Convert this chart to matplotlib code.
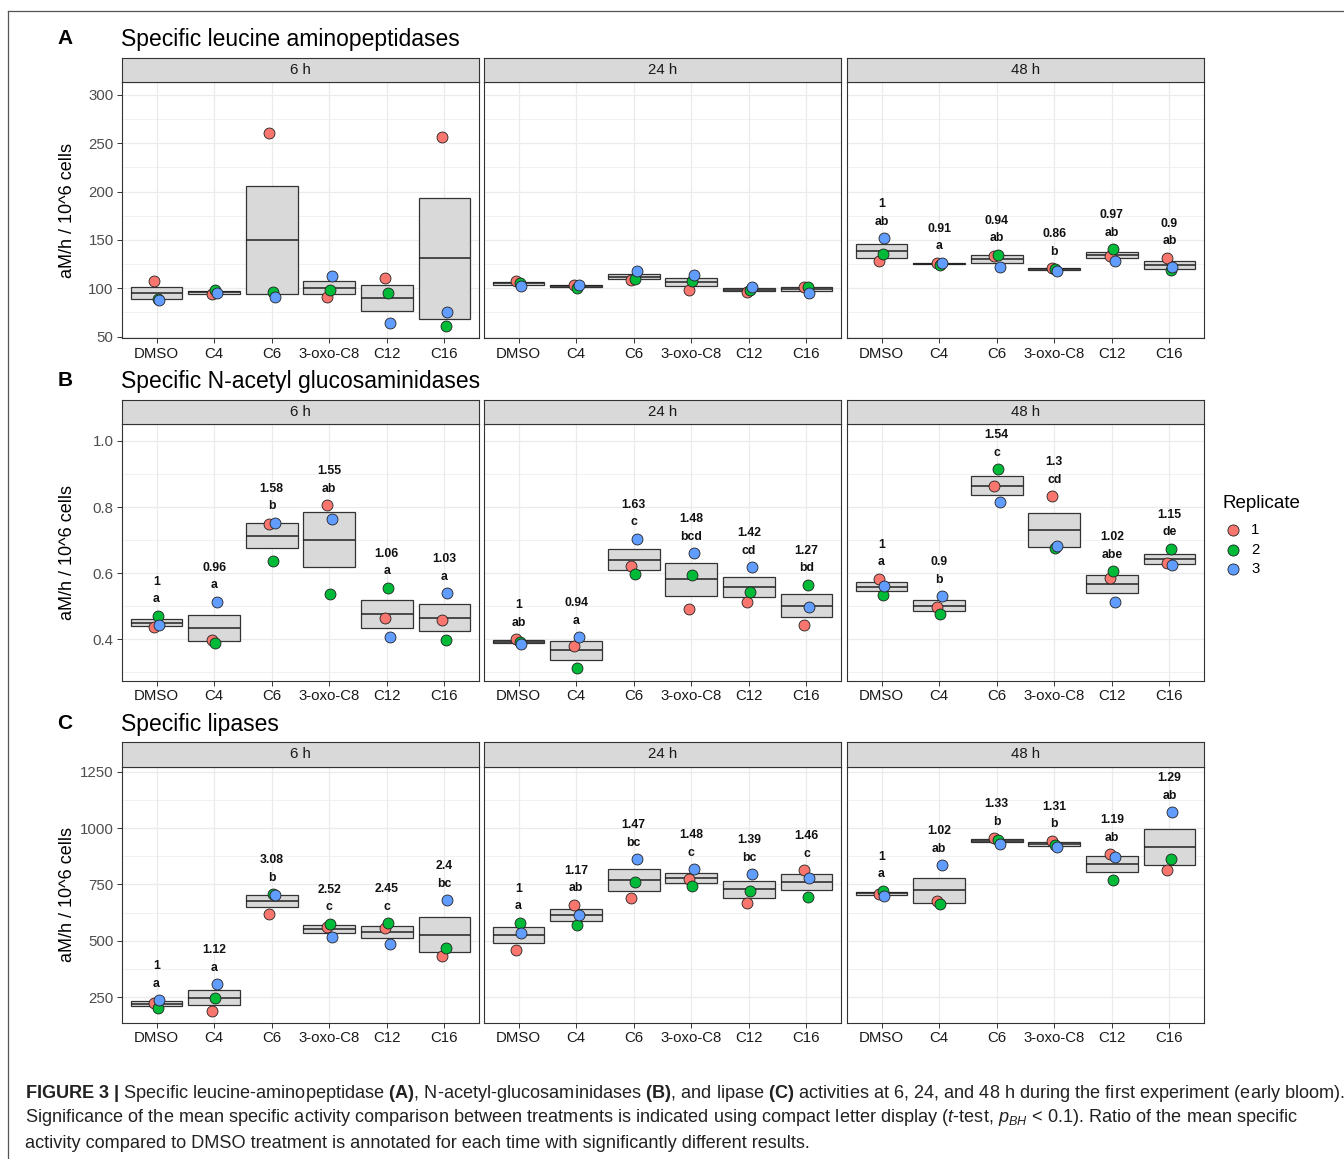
import matplotlib
matplotlib.use("Agg")
import matplotlib.pyplot as plt
from matplotlib.lines import Line2D
import numpy as np

plt.rcParams['font.family'] = ['Liberation Sans', 'DejaVu Sans']
plt.rcParams['mathtext.fontset'] = 'custom'
plt.rcParams['mathtext.rm'] = 'Liberation Sans'
plt.rcParams['mathtext.it'] = 'Liberation Sans:italic'
plt.rcParams['mathtext.bf'] = 'Liberation Sans:bold'

treatments = ["DMSO", "C4", "C6", "3-oxo-C8", "C12", "C16"]
times = ["6 h", "24 h", "48 h"]
replicates = ["1", "2", "3"]
rep_colors = ["#F8766D", "#00BA38", "#619CFF"]

# rows = replicate 1, 2, 3 ; columns = treatments
# A - leucine aminopeptidase
lap_6h = [[108, 94, 261, 90.7, 111, 256.5],
          [89, 98, 96.5, 98, 95, 61],
          [88, 95, 91, 113, 64.5, 75]]
lap_24h = [[108, 103.7, 109, 98.6, 96.5, 101.8],
           [105, 100.5, 109.3, 107.3, 98.3, 101],
           [102.5, 103, 117.6, 113.5, 101, 95.5]]
lap_48h = [[128, 126.5, 133.2, 121, 133.8, 131.7],
           [135.5, 124, 134.8, 120, 140.4, 119],
           [151.7, 126, 122, 117.7, 128.6, 121.8]]
lap_ratio_48h = ["1", "0.91", "0.94", "0.86", "0.97", "0.9"]
lap_cld_48h = ["ab", "a", "ab", "b", "ab", "ab"]

# B - N-acetyl glucosaminidase
nag_6h = [[0.438, 0.398, 0.749, 0.806, 0.465, 0.458],
          [0.471, 0.390, 0.638, 0.536, 0.556, 0.398],
          [0.443, 0.514, 0.753, 0.763, 0.408, 0.539]]
nag_24h = [[0.400, 0.381, 0.622, 0.491, 0.512, 0.444],
           [0.393, 0.312, 0.597, 0.594, 0.544, 0.565],
           [0.386, 0.406, 0.704, 0.660, 0.618, 0.497]]
nag_48h = [[0.583, 0.498, 0.864, 0.833, 0.584, 0.632],
           [0.534, 0.477, 0.914, 0.677, 0.606, 0.674],
           [0.562, 0.531, 0.816, 0.683, 0.514, 0.624]]
nag_ratio_6h = ["1", "0.96", "1.58", "1.55", "1.06", "1.03"]
nag_cld_6h = ["a", "a", "b", "ab", "a", "a"]
nag_ratio_24h = ["1", "0.94", "1.63", "1.48", "1.42", "1.27"]
nag_cld_24h = ["ab", "a", "c", "bcd", "cd", "bd"]
nag_ratio_48h = ["1", "0.9", "1.54", "1.3", "1.02", "1.15"]
nag_cld_48h = ["a", "b", "c", "cd", "abe", "de"]

# C - lipase
lip_6h = [[223, 189, 621, 563, 556, 433],
          [201, 248, 707, 576, 578, 467],
          [238, 309, 703, 519, 485, 680]]
lip_24h = [[460, 660, 689, 773, 669, 814],
           [581, 569, 760, 745, 721, 693],
           [534, 615, 862, 817, 795, 780]]
lip_48h = [[710, 678, 956, 944, 884, 814],
           [723, 662, 946, 926, 770, 862],
           [700, 835, 931, 918, 871, 1070]]
lip_ratio_6h = ["1", "1.12", "3.08", "2.52", "2.45", "2.4"]
lip_cld_6h = ["a", "a", "b", "c", "c", "bc"]
lip_ratio_24h = ["1", "1.17", "1.47", "1.48", "1.39", "1.46"]
lip_cld_24h = ["a", "ab", "bc", "c", "bc", "c"]
lip_ratio_48h = ["1", "1.02", "1.33", "1.31", "1.19", "1.29"]
lip_cld_48h = ["a", "ab", "b", "b", "ab", "ab"]

rows = [
    dict(tag="A", title="Specific leucine aminopeptidases",
         data=[lap_6h, lap_24h, lap_48h],
         ann=[None, None, (lap_ratio_48h, lap_cld_48h)],
         ylim=(48.3, 313), major=[50, 100, 150, 200, 250, 300],
         minor=[75, 125, 175, 225, 275], labels=["50", "100", "150", "200", "250", "300"],
         top=82.3, bottom=338.3),
    dict(tag="B", title="Specific N-acetyl glucosaminidases",
         data=[nag_6h, nag_24h, nag_48h],
         ann=[(nag_ratio_6h, nag_cld_6h), (nag_ratio_24h, nag_cld_24h), (nag_ratio_48h, nag_cld_48h)],
         ylim=(0.2747, 1.0505), major=[0.4, 0.6, 0.8, 1.0],
         minor=[0.3, 0.5, 0.7, 0.9], labels=["0.4", "0.6", "0.8", "1.0"],
         top=424.3, bottom=680.7),
    dict(tag="C", title="Specific lipases",
         data=[lip_6h, lip_24h, lip_48h],
         ann=[(lip_ratio_6h, lip_cld_6h), (lip_ratio_24h, lip_cld_24h), (lip_ratio_48h, lip_cld_48h)],
         ylim=(137.4, 1272), major=[250, 500, 750, 1000, 1250],
         minor=[375, 625, 875, 1125], labels=["250", "500", "750", "1000", "1250"],
         top=766.7, bottom=1022.7),
]

W, H = 1344, 1159
fig = plt.figure(figsize=(W / 100, H / 100), dpi=100)
fx = lambda p: p / W
fy = lambda p: 1 - p / H

col_left = [122, 484, 847]
col_w = 357
strip_h = 24.5
jit = [-0.04, 0.02, 0.05]
x = np.arange(1, len(treatments) + 1)

for row in rows:
    for ci in range(3):
        ax = fig.add_axes([fx(col_left[ci]), fy(row["bottom"]), col_w / W, (row["bottom"] - row["top"]) / H])
        vals = np.array(row["data"][ci], dtype=float)
        mean = vals.mean(axis=0)
        se = vals.std(axis=0, ddof=1) / np.sqrt(vals.shape[0])
        # crossbar = mean +- SE
        ax.bar(x, 2 * se, bottom=mean - se, width=0.9, color="#D9D9D9",
               edgecolor="#333333", linewidth=0.9, zorder=2)
        ax.hlines(mean, x - 0.45, x + 0.45, color="#222222", lw=1.1, zorder=3)
        for r in range(vals.shape[0]):
            ax.scatter(x + jit[r], vals[r], s=62, c=rep_colors[r], edgecolors="#222222",
                       linewidths=0.6, zorder=4)
        if row["ann"][ci] is not None:
            ratio, cld = row["ann"][ci]
            top = vals.max(axis=0)
            for i in range(len(x)):
                ax.annotate(cld[i], (x[i], top[i]), xytext=(0, 11.8), textcoords="offset points",
                            ha="center", va="center", fontsize=8.8, fontweight="bold", color="#111111")
                ax.annotate(ratio[i], (x[i], top[i]), xytext=(0, 24.5), textcoords="offset points",
                            ha="center", va="center", fontsize=8.8, fontweight="bold", color="#111111")
        ax.set_xlim(0.4, 6.6)
        ax.set_ylim(*row["ylim"])
        ax.set_xticks(x)
        ax.set_xticklabels(treatments, fontsize=10.8, color="#1A1A1A")
        ax.set_yticks(row["major"])
        ax.set_yticklabels(row["labels"], fontsize=10.8, color="#4D4D4D")
        ax.set_yticks(row["minor"], minor=True)
        ax.tick_params(which="minor", length=0)
        ax.tick_params(which="major", length=3.5, width=0.7, color="#333333", pad=2.5)
        ax.grid(which="major", color="#EBEBEB", lw=0.9)
        ax.grid(which="minor", axis="y", color="#EBEBEB", lw=0.5)
        ax.set_axisbelow(True)
        for s in ax.spines.values():
            s.set_color("#333333")
            s.set_linewidth(0.8)
        if ci > 0:
            ax.tick_params(axis="y", left=False, labelleft=False)

        sax = fig.add_axes([fx(col_left[ci]), fy(row["top"]), col_w / W, strip_h / H])
        sax.set_facecolor("#D9D9D9")
        sax.set_xticks([])
        sax.set_yticks([])
        for s in sax.spines.values():
            s.set_color("#333333")
            s.set_linewidth(0.8)
        sax.text(0.5, 0.5, times[ci], ha="center", va="center", fontsize=10.8,
                 color="#1A1A1A", transform=sax.transAxes)

    strip_top = row["top"] - strip_h
    fig.text(fx(65), fy(strip_top - 19), row["tag"], ha="center", va="center",
             fontsize=15, fontweight="bold")
    fig.text(fx(121), fy(strip_top - 18), row["title"], ha="left", va="center", fontsize=16.5)
    fig.text(fx(68), fy((row["top"] + row["bottom"]) / 2), "aM/h / 10^6 cells",
             rotation=90, ha="center", va="center", fontsize=13)

# legend, drawn by hand to match ggplot spacing
fig.text(fx(1223), fy(503), "Replicate", ha="left", va="center", fontsize=13.5)
for k, (lab, c) in enumerate(zip(replicates, rep_colors)):
    yk = fy(530 + 19.5 * k)
    fig.add_artist(Line2D([fx(1233)], [yk], marker="o", ls="", markersize=8,
                          markerfacecolor=c, markeredgecolor="#222222", markeredgewidth=0.6))
    fig.text(fx(1251), yk, lab, ha="left", va="center", fontsize=10.8)

# caption
cap1 = (r"$\mathbf{FIGURE\ 3\ |}$ Specific leucine-aminopeptidase $\mathbf{(A)}$, "
        r"N-acetyl-glucosaminidases $\mathbf{(B)}$, and lipase $\mathbf{(C)}$ activities at 6, 24, "
        r"and 48 h during the first experiment (early bloom).")
cap2 = (r"Significance of the mean specific activity comparison between treatments is indicated "
        r"using compact letter display ($t$-test, $p_{BH}$ < 0.1). Ratio of the mean specific")
cap3 = ("activity compared to DMSO treatment is annotated for each time with significantly "
        "different results.")
for yy, cap in zip([1093, 1118, 1143], [cap1, cap2, cap3]):
    fig.text(fx(25), fy(yy), cap, ha="left", va="center", fontsize=13.05, color="#222222")

# figure frame
fig.add_artist(Line2D([fx(8), 1], [fy(11), fy(11)], color="#555555", lw=0.9))
fig.add_artist(Line2D([fx(8), fx(8)], [fy(11), 0], color="#555555", lw=0.9))

fig.savefig("out.png", dpi=100)
